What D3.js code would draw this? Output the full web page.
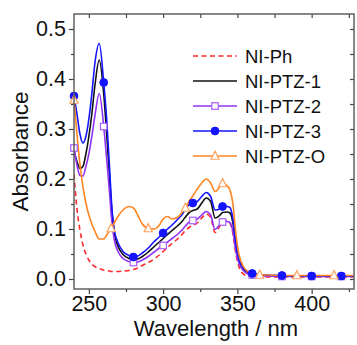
<!DOCTYPE html>
<html>
<head>
<meta charset="utf-8">
<script src="https://cdn.jsdelivr.net/npm/d3@7"></script>
<style>
  body { margin: 0; background: #fff; }
  svg { display: block; font-family: "Liberation Sans", Arial, sans-serif; }
</style>
</head>
<body>
<div id="chart"></div>
<script>
// wavelength grid shared by all spectra (nm)
const wavelengths = [240, 242, 244, 246, 248, 250, 252, 254, 257, 260, 262, 264, 265, 267, 270, 273, 277, 280, 283, 286,
  290, 294, 297, 300, 303, 306, 310, 313, 315, 318, 320, 323, 326, 329, 332, 335, 338, 340, 343, 345,
  347, 349, 351, 354, 357, 360, 365, 370, 380, 390, 400, 410, 415, 420, 428];

const absPh = [0.21, 0.14, 0.098, 0.068, 0.05, 0.038, 0.03, 0.025, 0.021, 0.018, 0.017, 0.016, 0.015, 0.015, 0.015, 0.016, 0.017, 0.019, 0.022, 0.027,
  0.033, 0.04, 0.047, 0.055, 0.063, 0.071, 0.081, 0.09, 0.097, 0.104, 0.107, 0.112, 0.122, 0.13, 0.123, 0.093, 0.105, 0.115, 0.117, 0.112,
  0.09, 0.05, 0.025, 0.01, 0.006, 0.005, 0.004, 0.004, 0.004, 0.004, 0.004, 0.004, 0.004, 0.004, 0.004];

const absPtz1 = [0.255, 0.235, 0.221, 0.225, 0.25, 0.285, 0.33, 0.385, 0.438, 0.37, 0.29, 0.2, 0.155, 0.095, 0.063, 0.049, 0.041, 0.039, 0.04, 0.045,
  0.054, 0.065, 0.073, 0.081, 0.089, 0.097, 0.107, 0.116, 0.124, 0.134, 0.137, 0.14, 0.152, 0.162, 0.155, 0.122, 0.127, 0.133, 0.134, 0.132,
  0.112, 0.065, 0.038, 0.02, 0.013, 0.01, 0.008, 0.007, 0.006, 0.006, 0.006, 0.006, 0.006, 0.006, 0.006];

const absPtz2 = [0.262, 0.228, 0.207, 0.206, 0.225, 0.25, 0.285, 0.325, 0.371, 0.305, 0.24, 0.17, 0.13, 0.08, 0.053, 0.041, 0.035, 0.033, 0.034, 0.038,
  0.045, 0.054, 0.061, 0.067, 0.074, 0.081, 0.09, 0.099, 0.106, 0.115, 0.117, 0.12, 0.128, 0.135, 0.128, 0.099, 0.108, 0.114, 0.115, 0.113,
  0.095, 0.055, 0.032, 0.017, 0.01, 0.008, 0.006, 0.006, 0.005, 0.005, 0.005, 0.005, 0.005, 0.005, 0.005];

const absPtz3 = [0.366, 0.33, 0.29, 0.272, 0.285, 0.32, 0.37, 0.43, 0.471, 0.393, 0.32, 0.22, 0.165, 0.1, 0.07, 0.055, 0.047, 0.044, 0.046, 0.052,
  0.062, 0.075, 0.083, 0.092, 0.1, 0.108, 0.12, 0.13, 0.14, 0.15, 0.152, 0.155, 0.165, 0.173, 0.165, 0.138, 0.14, 0.145, 0.145, 0.143,
  0.12, 0.07, 0.04, 0.022, 0.015, 0.011, 0.009, 0.008, 0.007, 0.006, 0.006, 0.006, 0.006, 0.006, 0.006];

const absPtzO = [0.358, 0.29, 0.23, 0.185, 0.152, 0.128, 0.11, 0.096, 0.08, 0.08, 0.088, 0.097, 0.101, 0.112, 0.127, 0.138, 0.145, 0.142, 0.127, 0.11,
  0.101, 0.1, 0.106, 0.12, 0.125, 0.12, 0.124, 0.134, 0.142, 0.158, 0.166, 0.18, 0.192, 0.2, 0.192, 0.175, 0.184, 0.191, 0.187, 0.178,
  0.15, 0.09, 0.05, 0.025, 0.015, 0.011, 0.008, 0.008, 0.007, 0.007, 0.007, 0.007, 0.007, 0.007, 0.007];

// wavelengths where the symbols sit
const circleAt = [240, 260, 280, 300, 320, 340, 360, 380, 400, 420];
const triangleAt = [240, 265, 290, 315, 340, 365, 390, 415];

const xTicks = [250, 300, 350, 400];
const xMinor = [275, 325, 375, 425];
const yTicks = [0, 0.1, 0.2, 0.3, 0.4, 0.5];
const yMinor = [0.05, 0.15, 0.25, 0.35, 0.45];

const series = [
  { name: 'NI-Ph', values: absPh, color: '#ff2a2a', dash: '5,3.5', marker: null },
  { name: 'NI-PTZ-1', values: absPtz1, color: '#111111', dash: null, marker: null },
  { name: 'NI-PTZ-2', values: absPtz2, color: '#9035f5', dash: null, marker: 'square', at: circleAt, mcolor: '#a65cff' },
  { name: 'NI-PTZ-3', values: absPtz3, color: '#1414ff', dash: null, marker: 'circle', at: circleAt, mcolor: '#1414ff' },
  { name: 'NI-PTZ-O', values: absPtzO, color: '#ff8420', dash: null, marker: 'triangle', at: triangleAt, mcolor: '#ffa460' }
];

const W = 357, H = 345;
const plotL = 74, plotR = 354, plotT = 14, plotB = 289;

const svg = d3.select('#chart').append('svg')
  .attr('width', W)
  .attr('height', H);

const x = d3.scaleLinear().domain([240, 428.5]).range([plotL, plotR]);
const y = d3.scaleLinear().domain([-0.02, 0.53]).range([plotB, plotT]);

svg.append('clipPath').attr('id', 'plot-clip')
  .append('rect')
  .attr('x', plotL).attr('y', plotT)
  .attr('width', plotR - plotL).attr('height', plotB - plotT);

const line = d3.line()
  .x((d) => x(d[0]))
  .y((d) => y(d[1]))
  .curve(d3.curveMonotoneX);

const lines = svg.append('g').attr('clip-path', 'url(#plot-clip)');

function drawMarker(g, type, cx, cy, col, fillCol, size) {
  if (type === 'circle') {
    g.append('circle').attr('cx', cx).attr('cy', cy).attr('r', size * 0.6)
      .attr('fill', col).attr('stroke', col).attr('stroke-width', 1);
  } else if (type === 'square') {
    g.append('rect').attr('x', cx - size / 2).attr('y', cy - size / 2)
      .attr('width', size).attr('height', size)
      .attr('fill', fillCol).attr('stroke', col).attr('stroke-width', 1.2);
  } else if (type === 'triangle') {
    const s = size * 1.25;
    g.append('path')
      .attr('d', `M${cx},${cy - s * 0.6}L${cx + s / 2},${cy + s * 0.4}L${cx - s / 2},${cy + s * 0.4}Z`)
      .attr('fill', fillCol).attr('stroke', col).attr('stroke-width', 1.2);
  }
}

const marks = svg.append('g');

series.forEach((s) => {
  const pts = wavelengths.map((w, i) => [w, s.values[i]]);
  lines.append('path')
    .attr('d', line(pts))
    .attr('fill', 'none')
    .attr('stroke', s.color)
    .attr('stroke-width', 1.6)
    .attr('stroke-dasharray', s.dash);

  if (s.marker) {
    pts.filter((p) => s.at.includes(p[0])).forEach((p) => {
      drawMarker(marks, s.marker, x(p[0]), y(p[1]), s.mcolor, '#fff', 6.5);
    });
  }
});

// axes
const fontSize = 21.5;

svg.append('g')
  .attr('transform', `translate(0,${plotB})`)
  .call(d3.axisBottom(x).tickValues(xTicks).tickSize(5).tickPadding(2).tickSizeOuter(0));
svg.append('g')
  .attr('transform', `translate(0,${plotB})`)
  .call(d3.axisBottom(x).tickValues(xMinor).tickSize(3).tickFormat('').tickSizeOuter(0));

svg.append('g')
  .attr('transform', `translate(${plotL},0)`)
  .call(d3.axisLeft(y).tickValues(yTicks).tickSize(5).tickPadding(3).tickSizeOuter(0).tickFormat(d3.format('.1f')));
svg.append('g')
  .attr('transform', `translate(${plotL},0)`)
  .call(d3.axisLeft(y).tickValues(yMinor).tickSize(3).tickFormat('').tickSizeOuter(0));

// top and right: ticks point inward, no labels
svg.append('g')
  .attr('transform', `translate(0,${plotT})`)
  .call(d3.axisTop(x).tickValues(xTicks.concat(xMinor)).tickSize(-4).tickFormat('').tickSizeOuter(0));
svg.append('g')
  .attr('transform', `translate(${plotR},0)`)
  .call(d3.axisRight(y).tickValues(yTicks.concat(yMinor)).tickSize(-4).tickFormat('').tickSizeOuter(0));

svg.selectAll('.domain').remove();
svg.selectAll('.tick line').attr('stroke', '#444').attr('stroke-width', 1.2);
svg.selectAll('.tick text')
  .attr('font-size', fontSize)
  .attr('font-family', '"Liberation Sans", Arial, sans-serif')
  .attr('fill', '#111');

svg.append('rect')
  .attr('x', plotL).attr('y', plotT)
  .attr('width', plotR - plotL).attr('height', plotB - plotT)
  .attr('fill', 'none')
  .attr('stroke', '#555')
  .attr('stroke-width', 1.4);

// titles
svg.append('text')
  .attr('x', (plotL + plotR) / 2 + 2)
  .attr('y', 336)
  .attr('text-anchor', 'middle')
  .attr('font-size', 22)
  .attr('fill', '#111')
  .text('Wavelength / nm');

svg.append('text')
  .attr('transform', `translate(28,${(plotT + plotB) / 2}) rotate(-90)`)
  .attr('text-anchor', 'middle')
  .attr('font-size', 22.5)
  .attr('fill', '#111')
  .text('Absorbance');

// legend
const legend = svg.append('g');
series.forEach((s, i) => {
  const ly = 56 + i * 25;
  legend.append('line')
    .attr('x1', 193).attr('x2', 237)
    .attr('y1', ly).attr('y2', ly)
    .attr('stroke', s.color)
    .attr('stroke-width', 1.6)
    .attr('stroke-dasharray', s.dash);
  if (s.marker) drawMarker(legend, s.marker, 215, ly, s.mcolor, '#fff', 6.5);
  legend.append('text')
    .attr('x', 245).attr('y', ly)
    .attr('dy', '0.36em')
    .attr('font-size', 18.5)
    .attr('fill', '#111')
    .text(s.name);
});
</script>
</body>
</html>
